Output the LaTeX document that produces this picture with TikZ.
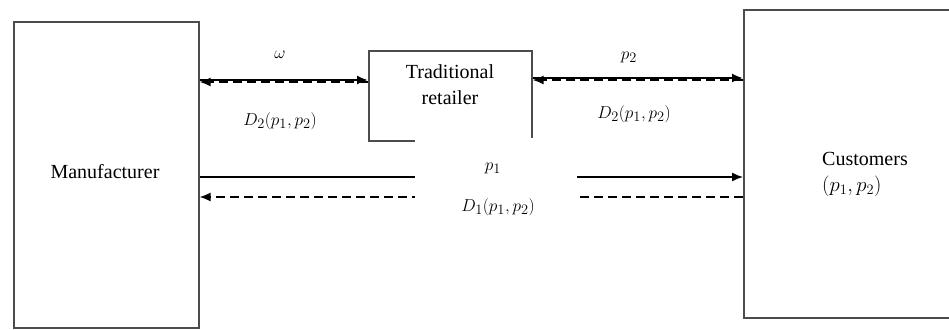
\documentclass[tikz,border=0pt]{standalone}
\usepackage{fontspec}
\setmainfont{Liberation Serif}
\usetikzlibrary{arrows.meta}
\begin{document}
\begin{tikzpicture}[x=1pt,y=-1pt,
  box/.style={draw=black!70, line width=1.6pt, inner sep=0pt},
  lbl/.style={font=\fontsize{20}{26}\selectfont, inner sep=0pt, align=center},
  mlbl/.style={font=\fontsize{19}{24}\selectfont, inner sep=0pt},
  flow/.style={line width=2pt, -{Latex[length=11pt,width=9pt]}},
  back/.style={line width=1.6pt, dash pattern=on 9pt off 5pt, -{Latex[length=11pt,width=9pt]}},
]
\useasboundingbox[fill=white] (0,0) rectangle (949,329);
% boxes
\node[box, minimum width=185pt, minimum height=306pt, anchor=north west] (man) at (13,21) {};
\node[lbl] (mantext) at (105,172) {Manufacturer};
\node[box, minimum width=209pt, minimum height=308pt, anchor=north west] (cust) at (743,9) {};
\node[lbl, align=left] (custtext) at (865,174) {Customers\\$(p_1,p_2)$};
\node[box, minimum width=163pt, minimum height=90pt, anchor=north west] (ret) at (368,50) {};
\node[lbl] (rettext) at (450,85) {Traditional\\retailer};
% connectors
\draw[flow] (man.east |- 0,80) -- (ret.west |- 0,80);
\draw[back] (ret.west |- 0,82) -- (man.east |- 0,82);
\draw[flow] (ret.east |- 0,78) -- (cust.west |- 0,78);
\draw[back] (cust.west |- 0,80) -- (ret.east |- 0,80);
\draw[flow, line width=1.4pt] (man.east |- 0,177) -- (cust.west |- 0,177);
\draw[back, line width=1.4pt] (cust.west |- 0,197) -- (man.east |- 0,197);
% white gap behind the middle labels
\node[fill=white, minimum width=162pt, minimum height=84pt, inner sep=0pt] (gap) at (496,180) {};
% labels
\node[mlbl] (w) at (280,55) {$\omega$};
\node[mlbl] (d2l) at (280,121) {$D_2(p_1,p_2)$};
\node[mlbl] (p2) at (629,57) {$p_2$};
\node[mlbl] (d2r) at (634,114) {$D_2(p_1,p_2)$};
\node[mlbl] (p1) at (493,168) {$p_1$};
\node[mlbl] (d1) at (498,207) {$D_1(p_1,p_2)$};
\end{tikzpicture}
\end{document}
